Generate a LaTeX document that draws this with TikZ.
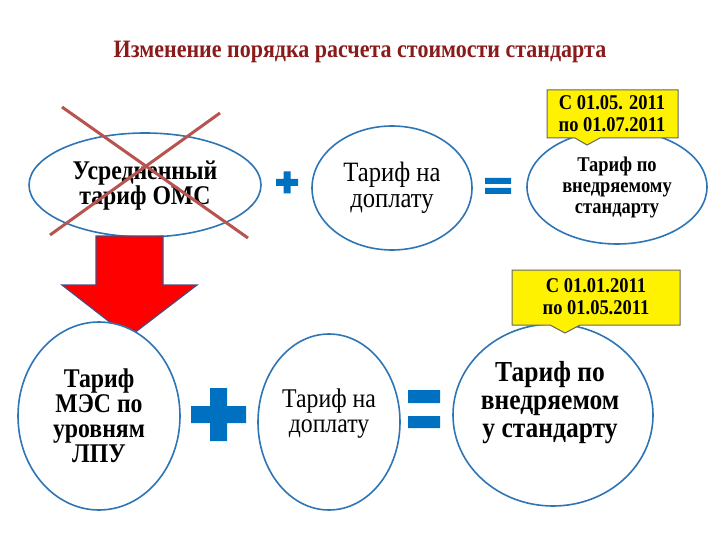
\documentclass[tikz,border=0pt]{standalone}
\usepackage{fontspec}
\setmainfont[FakeStretch=0.88]{Liberation Serif}
\begin{document}
\begin{tikzpicture}[x=1pt,y=-1pt,
  lbl/.style={align=center,font=#1},
  callout/.style={fill=yellow,draw=black!60,line width=1pt}]
\definecolor{eb}{HTML}{2E75B6}
\definecolor{sb}{HTML}{0070C0}
\definecolor{xr}{HTML}{B85450}
\definecolor{tr}{HTML}{8B1A1A}
\useasboundingbox (0,0) rectangle (720,540);
\node[text=tr,font=\bfseries\fontsize{25}{26}\selectfont] (title) at (360,52) {Изменение порядка расчета стоимости стандарта};
% top row
\draw[eb,line width=1.6pt,fill=white] (145,185) ellipse [x radius=116,y radius=52];
\node[lbl=\bfseries\fontsize{27}{25}\selectfont] (t1) at (145,186) {Усредненный\\тариф ОМС};
\draw[xr,line width=3pt] (62,107) -- (248,238) (220,113) -- (50,235);
\fill[sb] (276,179) rectangle (298,186) (283.5,171.5) rectangle (290.5,193.5);
\draw[eb,line width=1.6pt,fill=white] (392,188) ellipse [x radius=80,y radius=62];
\node[lbl=\fontsize{28}{26}\selectfont] (t2) at (392,188) {Тариф на\\доплату};
\fill[sb] (485,178) rectangle (511,184) (485,188) rectangle (511,194);
\draw[eb,line width=1.6pt,fill=white] (617,187) ellipse [x radius=90,y radius=57];
\node[lbl=\bfseries\fontsize{21}{21}\selectfont] (t3) at (617,187) {Тариф по\\внедряемому\\стандарту};
\draw[callout] (547,90) -- (678,90) -- (678,138) -- (600,138) -- (587,145) -- (575,138) -- (547,138) -- cycle;
\node[lbl=\bfseries\fontsize{21}{22}\selectfont] (c1) at (612,114) {С 01.05. 2011\\по 01.07.2011};
% red arrow
\draw[fill=red,draw=black!50!blue!40!gray,line width=1.2pt] (96,236) -- (163,236) -- (163,285) -- (197,285) -- (129,337) -- (62,285) -- (96,285) -- cycle;
% bottom row
\draw[eb,line width=1.6pt,fill=white] (99,416) ellipse [x radius=81,y radius=94];
\node[lbl=\bfseries\fontsize{27}{25}\selectfont] (b1) at (99,416) {Тариф\\МЭС по\\уровням\\ЛПУ};
\draw[eb,line width=1.6pt,fill=white] (553,415) ellipse [x radius=100,y radius=91];
\draw[callout] (512,270) -- (680,270) -- (680,325) -- (580,325) -- (565,333) -- (550,325) -- (512,325) -- cycle;
\node[lbl=\bfseries\fontsize{21}{22}\selectfont] (c2) at (596,297) {С 01.01.2011\\по 01.05.2011};
\node[lbl=\bfseries\fontsize{29}{28}\selectfont] (b3) at (550,403) {Тариф по\\внедряемом\\у стандарту};
\fill[sb] (191,406) rectangle (246,423) (210,388) rectangle (227,441);
\draw[eb,line width=1.6pt,fill=white] (329,422) ellipse [x radius=71,y radius=88];
\node[lbl=\fontsize{27}{25}\selectfont] (b2) at (329,414) {Тариф на\\доплату};
\fill[sb] (408,390) rectangle (440,403) (408,416) rectangle (440,428);
\end{tikzpicture}
\end{document}
